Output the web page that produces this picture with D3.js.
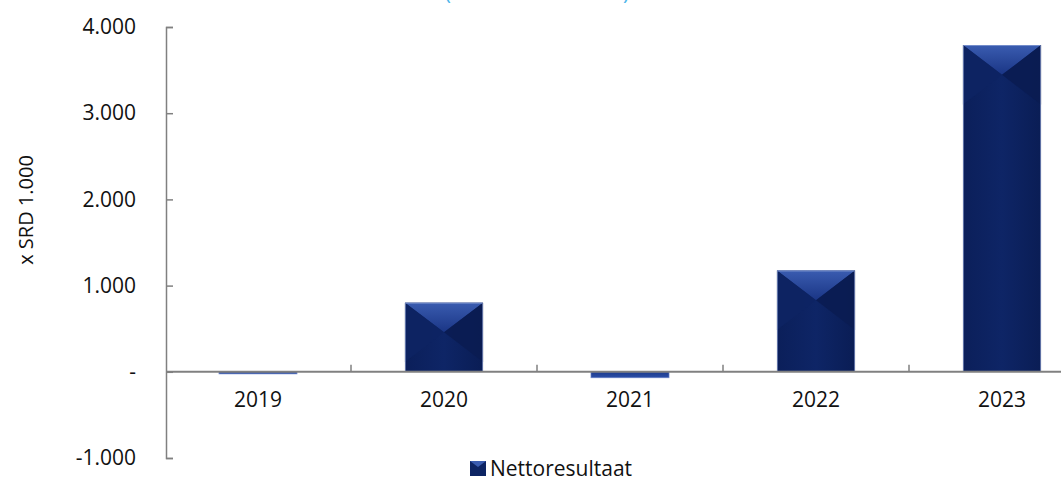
<!DOCTYPE html>
<html><head><meta charset="utf-8">
<script src="https://cdn.jsdelivr.net/npm/d3@7/dist/d3.min.js"></script>
<style>html,body{margin:0;padding:0;background:#fff}svg{display:block}text{font-family:"Open Sans","Noto Sans",sans-serif}</style>
</head><body><svg id="c" width="1061" height="482"></svg>
<script>
const years = ["2019","2020","2021","2022","2023"];
const nettoresultaat = [-25, 802, -70, 1175, 3790];
const yTicks = [-1000, 0, 1000, 2000, 3000, 4000];
const yTickLabels = ["-1.000", "-", "1.000", "2.000", "3.000", "4.000"];
const seriesName = "Nettoresultaat";
const yTitle = "x SRD 1.000";
const chartTitle = "(in duizenden SRD)";

const FS = 21;
const svg = d3.select("#c");
const x = d3.scaleBand().domain(years).range([165, 1095]).paddingInner(0.58).paddingOuter(0.29);
const xb = d3.scaleBand().domain(years).range([165, 1095]);
const y = d3.scaleLinear().domain([-1000, 4000]).range([458, 27]);

const defs = svg.append("defs");
const gTop = defs.append("linearGradient").attr("id","gtop").attr("x1",0).attr("y1",0).attr("x2",0).attr("y2",1);
gTop.append("stop").attr("offset","0%").attr("stop-color","#3a5cb0");
gTop.append("stop").attr("offset","100%").attr("stop-color","#1a3585");
const gBody = defs.append("linearGradient").attr("id","gbody").attr("x1",0).attr("y1",0).attr("x2",1).attr("y2",0);
gBody.append("stop").attr("offset","0%").attr("stop-color","#0b1f5a");
gBody.append("stop").attr("offset","50%").attr("stop-color","#0e2566");
gBody.append("stop").attr("offset","100%").attr("stop-color","#0a1d55");
const gNeg = defs.append("linearGradient").attr("id","gneg").attr("x1",0).attr("y1",0).attr("x2",0).attr("y2",1);
gNeg.append("stop").attr("offset","0%").attr("stop-color","#1c3a8c");
gNeg.append("stop").attr("offset","100%").attr("stop-color","#2c4fa8");

// title (clipped at top, as in the source)
svg.append("text").attr("x",537).attr("y",0).attr("text-anchor","middle")
  .attr("font-size",FS).attr("fill","#4fb6ea").text(chartTitle);

// bars
const data = years.map((yr,i)=>({yr, v:nettoresultaat[i]}));
const bars = svg.append("g");
data.forEach(d=>{
  const x0 = x(d.yr), w = x.bandwidth();
  const yTop = y(Math.max(0,d.v)), yBot = y(Math.min(0,d.v));
  const h = yBot - yTop;
  const g = bars.append("g");
  if (d.v >= 0) {
    g.append("rect").attr("x",x0).attr("y",yTop).attr("width",w).attr("height",h).attr("fill","url(#gbody)");
    const depth = Math.min(w*0.38, h/2);
    const cx = x0 + w/2;
    g.append("path").attr("d",`M${x0},${yTop}L${x0+w},${yTop}L${cx},${yTop+depth}Z`).attr("fill","url(#gtop)");
    g.append("path").attr("d",`M${x0},${yTop}L${cx},${yTop+depth}L${x0},${yTop+Math.min(h,depth*2)}Z`).attr("fill","#0d2463").attr("opacity",0.9);
    g.append("path").attr("d",`M${x0+w},${yTop}L${cx},${yTop+depth}L${x0+w},${yTop+Math.min(h,depth*2)}Z`).attr("fill","#0a1c52").attr("opacity",0.9);
    g.append("rect").attr("x",x0+0.5).attr("y",yTop+0.5).attr("width",w-1).attr("height",h-1)
      .attr("fill","none").attr("stroke","#9fb2e0").attr("stroke-width",0.8).attr("opacity",0.7);
  } else {
    g.append("rect").attr("x",x0).attr("y",yTop).attr("width",w).attr("height",h).attr("fill","url(#gneg)")
      .attr("stroke","#7d93cf").attr("stroke-width",0.6);
  }
});

// y axis
const yAxis = d3.axisLeft(y).tickValues(yTicks).tickFormat((d,i)=>yTickLabels[i])
  .tickSizeInner(-7).tickSizeOuter(-7).tickPadding(30);
const ya = svg.append("g").attr("transform","translate(166,0)").call(yAxis);
ya.selectAll("path,line").attr("stroke","#808080").attr("stroke-width",1.5);
ya.selectAll("text").attr("font-size",FS).attr("fill","#111").attr("font-family","Open Sans, Noto Sans, sans-serif");

// x axis at zero
const xAxis = d3.axisBottom(xb).tickSize(0).tickPadding(20);
const xa = svg.append("g").attr("transform",`translate(0,${y(0)})`).call(xAxis);
xa.select(".domain").remove();
xa.selectAll("text").attr("font-size",FS).attr("fill","#111").attr("font-family","Open Sans, Noto Sans, sans-serif");
svg.append("line").attr("x1",166).attr("x2",1061).attr("y1",y(0)).attr("y2",y(0))
  .attr("stroke","#808080").attr("stroke-width",2);
svg.append("g").selectAll("line").data(years.slice(1)).join("line")
  .attr("x1",d=>xb(d)).attr("x2",d=>xb(d)).attr("y1",y(0)).attr("y2",y(0)-7)
  .attr("stroke","#808080").attr("stroke-width",1.5);

// y title
svg.append("text").attr("transform","translate(33,210) rotate(-90)").attr("text-anchor","middle")
  .attr("font-size",FS-1).attr("fill","#111").text(yTitle);

// legend
const lg = svg.append("g").attr("transform","translate(470,461)");
lg.append("rect").attr("x",0).attr("y",0).attr("width",16).attr("height",15).attr("fill","#0d2463");
lg.append("path").attr("d","M0,0L16,0L8,6Z").attr("fill","#3a5cb0");
lg.append("text").attr("x",20).attr("y",15).attr("font-size",FS).attr("fill","#111").text(seriesName);
</script></body></html>
